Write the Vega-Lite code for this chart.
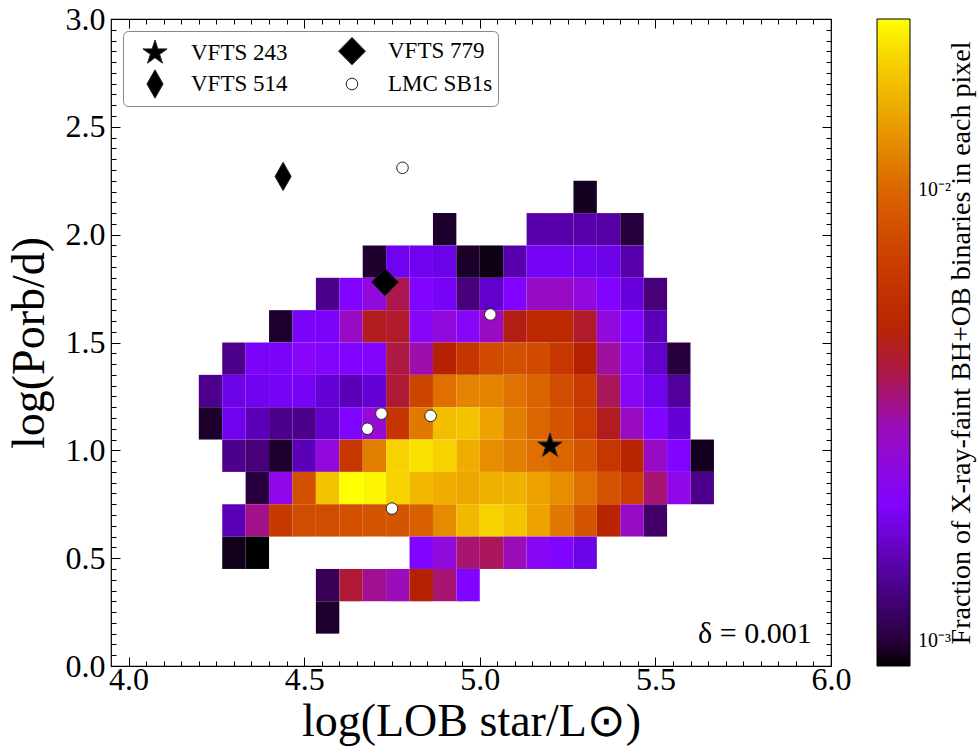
{
"$schema": "https://vega.github.io/schema/vega-lite/v6.json",
"width": 720, "height": 647,
"autosize": "none",
"padding": {"left": 111, "top": 19, "right": 146, "bottom": 86},
"background": "white",
"config": {
  "view": {"stroke": "black", "strokeWidth": 1.2},
  "font": "Liberation Serif",
  "text": {"font": "Liberation Serif"},
  "legend": {"labelFont": "Liberation Serif", "titleFont": "Liberation Serif"},
  "axis": {"labelColor": "black", "tickColor": "black", "titleColor": "black", "grid": false, "domain": false, "labelFont": "Liberation Serif", "titleFont": "Liberation Serif", "titleFontWeight": "normal", "tickWidth": 1}
},
"datasets": {
  "cells": [
    {"x0":5.2667,"x1":5.3333,"y0":2.1,"y1":2.25,"f":0.00094},
    {"x0":4.8667,"x1":4.9333,"y0":1.95,"y1":2.1,"f":0.00097},
    {"x0":5.1333,"x1":5.2,"y0":1.95,"y1":2.1,"f":0.0013},
    {"x0":5.2,"x1":5.2667,"y0":1.95,"y1":2.1,"f":0.0013},
    {"x0":5.2667,"x1":5.3333,"y0":1.95,"y1":2.1,"f":0.0013},
    {"x0":5.3333,"x1":5.4,"y0":1.95,"y1":2.1,"f":0.00128},
    {"x0":5.4,"x1":5.4667,"y0":1.95,"y1":2.1,"f":0.001},
    {"x0":4.6667,"x1":4.7333,"y0":1.8,"y1":1.95,"f":0.00097},
    {"x0":4.7333,"x1":4.8,"y0":1.8,"y1":1.95,"f":0.0017},
    {"x0":4.8,"x1":4.8667,"y0":1.8,"y1":1.95,"f":0.0017},
    {"x0":4.8667,"x1":4.9333,"y0":1.8,"y1":1.95,"f":0.0016},
    {"x0":4.9333,"x1":5,"y0":1.8,"y1":1.95,"f":0.00096},
    {"x0":5,"x1":5.0667,"y0":1.8,"y1":1.95,"f":0.00092},
    {"x0":5.0667,"x1":5.1333,"y0":1.8,"y1":1.95,"f":0.0013},
    {"x0":5.1333,"x1":5.2,"y0":1.8,"y1":1.95,"f":0.0018},
    {"x0":5.2,"x1":5.2667,"y0":1.8,"y1":1.95,"f":0.0018},
    {"x0":5.2667,"x1":5.3333,"y0":1.8,"y1":1.95,"f":0.0017},
    {"x0":5.3333,"x1":5.4,"y0":1.8,"y1":1.95,"f":0.0016},
    {"x0":5.4,"x1":5.4667,"y0":1.8,"y1":1.95,"f":0.0013},
    {"x0":4.5333,"x1":4.6,"y0":1.65,"y1":1.8,"f":0.0012},
    {"x0":4.6,"x1":4.6667,"y0":1.65,"y1":1.8,"f":0.002},
    {"x0":4.6667,"x1":4.7333,"y0":1.65,"y1":1.8,"f":0.0026},
    {"x0":4.7333,"x1":4.8,"y0":1.65,"y1":1.8,"f":0.0039},
    {"x0":4.8,"x1":4.8667,"y0":1.65,"y1":1.8,"f":0.002},
    {"x0":4.8667,"x1":4.9333,"y0":1.65,"y1":1.8,"f":0.00185},
    {"x0":4.9333,"x1":5,"y0":1.65,"y1":1.8,"f":0.00115},
    {"x0":5,"x1":5.0667,"y0":1.65,"y1":1.8,"f":0.00145},
    {"x0":5.0667,"x1":5.1333,"y0":1.65,"y1":1.8,"f":0.002},
    {"x0":5.1333,"x1":5.2,"y0":1.65,"y1":1.8,"f":0.00285},
    {"x0":5.2,"x1":5.2667,"y0":1.65,"y1":1.8,"f":0.00285},
    {"x0":5.2667,"x1":5.3333,"y0":1.65,"y1":1.8,"f":0.0026},
    {"x0":5.3333,"x1":5.4,"y0":1.65,"y1":1.8,"f":0.002},
    {"x0":5.4,"x1":5.4667,"y0":1.65,"y1":1.8,"f":0.00155},
    {"x0":5.4667,"x1":5.5333,"y0":1.65,"y1":1.8,"f":0.00115},
    {"x0":4.4,"x1":4.4667,"y0":1.5,"y1":1.65,"f":0.00097},
    {"x0":4.4667,"x1":4.5333,"y0":1.5,"y1":1.65,"f":0.0019},
    {"x0":4.5333,"x1":4.6,"y0":1.5,"y1":1.65,"f":0.0019},
    {"x0":4.6,"x1":4.6667,"y0":1.5,"y1":1.65,"f":0.00285},
    {"x0":4.6667,"x1":4.7333,"y0":1.5,"y1":1.65,"f":0.0043},
    {"x0":4.7333,"x1":4.8,"y0":1.5,"y1":1.65,"f":0.0042},
    {"x0":4.8,"x1":4.8667,"y0":1.5,"y1":1.65,"f":0.0022},
    {"x0":4.8667,"x1":4.9333,"y0":1.5,"y1":1.65,"f":0.0026},
    {"x0":4.9333,"x1":5,"y0":1.5,"y1":1.65,"f":0.0022},
    {"x0":5,"x1":5.0667,"y0":1.5,"y1":1.65,"f":0.0029},
    {"x0":5.0667,"x1":5.1333,"y0":1.5,"y1":1.65,"f":0.0044},
    {"x0":5.1333,"x1":5.2,"y0":1.5,"y1":1.65,"f":0.0053},
    {"x0":5.2,"x1":5.2667,"y0":1.5,"y1":1.65,"f":0.0053},
    {"x0":5.2667,"x1":5.3333,"y0":1.5,"y1":1.65,"f":0.0042},
    {"x0":5.3333,"x1":5.4,"y0":1.5,"y1":1.65,"f":0.0026},
    {"x0":5.4,"x1":5.4667,"y0":1.5,"y1":1.65,"f":0.002},
    {"x0":5.4667,"x1":5.5333,"y0":1.5,"y1":1.65,"f":0.00135},
    {"x0":4.2667,"x1":4.3333,"y0":1.35,"y1":1.5,"f":0.0012},
    {"x0":4.3333,"x1":4.4,"y0":1.35,"y1":1.5,"f":0.0019},
    {"x0":4.4,"x1":4.4667,"y0":1.35,"y1":1.5,"f":0.0019},
    {"x0":4.4667,"x1":4.5333,"y0":1.35,"y1":1.5,"f":0.0022},
    {"x0":4.5333,"x1":4.6,"y0":1.35,"y1":1.5,"f":0.00205},
    {"x0":4.6,"x1":4.6667,"y0":1.35,"y1":1.5,"f":0.002},
    {"x0":4.6667,"x1":4.7333,"y0":1.35,"y1":1.5,"f":0.00205},
    {"x0":4.7333,"x1":4.8,"y0":1.35,"y1":1.5,"f":0.004},
    {"x0":4.8,"x1":4.8667,"y0":1.35,"y1":1.5,"f":0.0031},
    {"x0":4.8667,"x1":4.9333,"y0":1.35,"y1":1.5,"f":0.0046},
    {"x0":4.9333,"x1":5,"y0":1.35,"y1":1.5,"f":0.0062},
    {"x0":5,"x1":5.0667,"y0":1.35,"y1":1.5,"f":0.0079},
    {"x0":5.0667,"x1":5.1333,"y0":1.35,"y1":1.5,"f":0.0084},
    {"x0":5.1333,"x1":5.2,"y0":1.35,"y1":1.5,"f":0.0079},
    {"x0":5.2,"x1":5.2667,"y0":1.35,"y1":1.5,"f":0.0063},
    {"x0":5.2667,"x1":5.3333,"y0":1.35,"y1":1.5,"f":0.0046},
    {"x0":5.3333,"x1":5.4,"y0":1.35,"y1":1.5,"f":0.0032},
    {"x0":5.4,"x1":5.4667,"y0":1.35,"y1":1.5,"f":0.00225},
    {"x0":5.4667,"x1":5.5333,"y0":1.35,"y1":1.5,"f":0.00145},
    {"x0":5.5333,"x1":5.6,"y0":1.35,"y1":1.5,"f":0.001},
    {"x0":4.2,"x1":4.2667,"y0":1.2,"y1":1.35,"f":0.0012},
    {"x0":4.2667,"x1":4.3333,"y0":1.2,"y1":1.35,"f":0.0016},
    {"x0":4.3333,"x1":4.4,"y0":1.2,"y1":1.35,"f":0.0017},
    {"x0":4.4,"x1":4.4667,"y0":1.2,"y1":1.35,"f":0.0018},
    {"x0":4.4667,"x1":4.5333,"y0":1.2,"y1":1.35,"f":0.0018},
    {"x0":4.5333,"x1":4.6,"y0":1.2,"y1":1.35,"f":0.0015},
    {"x0":4.6,"x1":4.6667,"y0":1.2,"y1":1.35,"f":0.00135},
    {"x0":4.6667,"x1":4.7333,"y0":1.2,"y1":1.35,"f":0.0015},
    {"x0":4.7333,"x1":4.8,"y0":1.2,"y1":1.35,"f":0.0041},
    {"x0":4.8,"x1":4.8667,"y0":1.2,"y1":1.35,"f":0.0075},
    {"x0":4.8667,"x1":4.9333,"y0":1.2,"y1":1.35,"f":0.0107},
    {"x0":4.9333,"x1":5,"y0":1.2,"y1":1.35,"f":0.0125},
    {"x0":5,"x1":5.0667,"y0":1.2,"y1":1.35,"f":0.0125},
    {"x0":5.0667,"x1":5.1333,"y0":1.2,"y1":1.35,"f":0.011},
    {"x0":5.1333,"x1":5.2,"y0":1.2,"y1":1.35,"f":0.0099},
    {"x0":5.2,"x1":5.2667,"y0":1.2,"y1":1.35,"f":0.008},
    {"x0":5.2667,"x1":5.3333,"y0":1.2,"y1":1.35,"f":0.0066},
    {"x0":5.3333,"x1":5.4,"y0":1.2,"y1":1.35,"f":0.0038},
    {"x0":5.4,"x1":5.4667,"y0":1.2,"y1":1.35,"f":0.00225},
    {"x0":5.4667,"x1":5.5333,"y0":1.2,"y1":1.35,"f":0.0017},
    {"x0":5.5333,"x1":5.6,"y0":1.2,"y1":1.35,"f":0.00125},
    {"x0":4.2,"x1":4.2667,"y0":1.05,"y1":1.2,"f":0.00097},
    {"x0":4.2667,"x1":4.3333,"y0":1.05,"y1":1.2,"f":0.0017},
    {"x0":4.3333,"x1":4.4,"y0":1.05,"y1":1.2,"f":0.00135},
    {"x0":4.4,"x1":4.4667,"y0":1.05,"y1":1.2,"f":0.0012},
    {"x0":4.4667,"x1":4.5333,"y0":1.05,"y1":1.2,"f":0.0012},
    {"x0":4.5333,"x1":4.6,"y0":1.05,"y1":1.2,"f":0.00145},
    {"x0":4.6,"x1":4.6667,"y0":1.05,"y1":1.2,"f":0.002},
    {"x0":4.6667,"x1":4.7333,"y0":1.05,"y1":1.2,"f":0.0027},
    {"x0":4.7333,"x1":4.8,"y0":1.05,"y1":1.2,"f":0.0062},
    {"x0":4.8,"x1":4.8667,"y0":1.05,"y1":1.2,"f":0.0115},
    {"x0":4.8667,"x1":4.9333,"y0":1.05,"y1":1.2,"f":0.0175},
    {"x0":4.9333,"x1":5,"y0":1.05,"y1":1.2,"f":0.018},
    {"x0":5,"x1":5.0667,"y0":1.05,"y1":1.2,"f":0.015},
    {"x0":5.0667,"x1":5.1333,"y0":1.05,"y1":1.2,"f":0.012},
    {"x0":5.1333,"x1":5.2,"y0":1.05,"y1":1.2,"f":0.01},
    {"x0":5.2,"x1":5.2667,"y0":1.05,"y1":1.2,"f":0.0085},
    {"x0":5.2667,"x1":5.3333,"y0":1.05,"y1":1.2,"f":0.0069},
    {"x0":5.3333,"x1":5.4,"y0":1.05,"y1":1.2,"f":0.0043},
    {"x0":5.4,"x1":5.4667,"y0":1.05,"y1":1.2,"f":0.0029},
    {"x0":5.4667,"x1":5.5333,"y0":1.05,"y1":1.2,"f":0.002},
    {"x0":5.5333,"x1":5.6,"y0":1.05,"y1":1.2,"f":0.0015},
    {"x0":4.2667,"x1":4.3333,"y0":0.9,"y1":1.05,"f":0.0012},
    {"x0":4.3333,"x1":4.4,"y0":0.9,"y1":1.05,"f":0.00115},
    {"x0":4.4,"x1":4.4667,"y0":0.9,"y1":1.05,"f":0.00097},
    {"x0":4.4667,"x1":4.5333,"y0":0.9,"y1":1.05,"f":0.00135},
    {"x0":4.5333,"x1":4.6,"y0":0.9,"y1":1.05,"f":0.0026},
    {"x0":4.6,"x1":4.6667,"y0":0.9,"y1":1.05,"f":0.0064},
    {"x0":4.6667,"x1":4.7333,"y0":0.9,"y1":1.05,"f":0.012},
    {"x0":4.7333,"x1":4.8,"y0":0.9,"y1":1.05,"f":0.0195},
    {"x0":4.8,"x1":4.8667,"y0":0.9,"y1":1.05,"f":0.021},
    {"x0":4.8667,"x1":4.9333,"y0":0.9,"y1":1.05,"f":0.0195},
    {"x0":4.9333,"x1":5,"y0":0.9,"y1":1.05,"f":0.016},
    {"x0":5,"x1":5.0667,"y0":0.9,"y1":1.05,"f":0.0133},
    {"x0":5.0667,"x1":5.1333,"y0":0.9,"y1":1.05,"f":0.012},
    {"x0":5.1333,"x1":5.2,"y0":0.9,"y1":1.05,"f":0.0107},
    {"x0":5.2,"x1":5.2667,"y0":0.9,"y1":1.05,"f":0.01},
    {"x0":5.2667,"x1":5.3333,"y0":0.9,"y1":1.05,"f":0.0085},
    {"x0":5.3333,"x1":5.4,"y0":0.9,"y1":1.05,"f":0.0064},
    {"x0":5.4,"x1":5.4667,"y0":0.9,"y1":1.05,"f":0.005},
    {"x0":5.4667,"x1":5.5333,"y0":0.9,"y1":1.05,"f":0.00285},
    {"x0":5.5333,"x1":5.6,"y0":0.9,"y1":1.05,"f":0.002},
    {"x0":5.6,"x1":5.6667,"y0":0.9,"y1":1.05,"f":0.00094},
    {"x0":4.3333,"x1":4.4,"y0":0.75,"y1":0.9,"f":0.001},
    {"x0":4.4,"x1":4.4667,"y0":0.75,"y1":0.9,"f":0.0025},
    {"x0":4.4667,"x1":4.5333,"y0":0.75,"y1":0.9,"f":0.0083},
    {"x0":4.5333,"x1":4.6,"y0":0.75,"y1":0.9,"f":0.018},
    {"x0":4.6,"x1":4.6667,"y0":0.75,"y1":0.9,"f":0.024},
    {"x0":4.6667,"x1":4.7333,"y0":0.75,"y1":0.9,"f":0.023},
    {"x0":4.7333,"x1":4.8,"y0":0.75,"y1":0.9,"f":0.0195},
    {"x0":4.8,"x1":4.8667,"y0":0.75,"y1":0.9,"f":0.017},
    {"x0":4.8667,"x1":4.9333,"y0":0.75,"y1":0.9,"f":0.016},
    {"x0":4.9333,"x1":5,"y0":0.75,"y1":0.9,"f":0.0155},
    {"x0":5,"x1":5.0667,"y0":0.75,"y1":0.9,"f":0.0165},
    {"x0":5.0667,"x1":5.1333,"y0":0.75,"y1":0.9,"f":0.0165},
    {"x0":5.1333,"x1":5.2,"y0":0.75,"y1":0.9,"f":0.015},
    {"x0":5.2,"x1":5.2667,"y0":0.75,"y1":0.9,"f":0.0133},
    {"x0":5.2667,"x1":5.3333,"y0":0.75,"y1":0.9,"f":0.0107},
    {"x0":5.3333,"x1":5.4,"y0":0.75,"y1":0.9,"f":0.0085},
    {"x0":5.4,"x1":5.4667,"y0":0.75,"y1":0.9,"f":0.0069},
    {"x0":5.4667,"x1":5.5333,"y0":0.75,"y1":0.9,"f":0.0036},
    {"x0":5.5333,"x1":5.6,"y0":0.75,"y1":0.9,"f":0.0025},
    {"x0":5.6,"x1":5.6667,"y0":0.75,"y1":0.9,"f":0.0012},
    {"x0":4.2667,"x1":4.3333,"y0":0.6,"y1":0.75,"f":0.00135},
    {"x0":4.3333,"x1":4.4,"y0":0.6,"y1":0.75,"f":0.0034},
    {"x0":4.4,"x1":4.4667,"y0":0.6,"y1":0.75,"f":0.0065},
    {"x0":4.4667,"x1":4.5333,"y0":0.6,"y1":0.75,"f":0.008},
    {"x0":4.5333,"x1":4.6,"y0":0.6,"y1":0.75,"f":0.008},
    {"x0":4.6,"x1":4.6667,"y0":0.6,"y1":0.75,"f":0.0083},
    {"x0":4.6667,"x1":4.7333,"y0":0.6,"y1":0.75,"f":0.0087},
    {"x0":4.7333,"x1":4.8,"y0":0.6,"y1":0.75,"f":0.0087},
    {"x0":4.8,"x1":4.8667,"y0":0.6,"y1":0.75,"f":0.0095},
    {"x0":4.8667,"x1":4.9333,"y0":0.6,"y1":0.75,"f":0.013},
    {"x0":4.9333,"x1":5,"y0":0.6,"y1":0.75,"f":0.017},
    {"x0":5,"x1":5.0667,"y0":0.6,"y1":0.75,"f":0.0195},
    {"x0":5.0667,"x1":5.1333,"y0":0.6,"y1":0.75,"f":0.018},
    {"x0":5.1333,"x1":5.2,"y0":0.6,"y1":0.75,"f":0.015},
    {"x0":5.2,"x1":5.2667,"y0":0.6,"y1":0.75,"f":0.0115},
    {"x0":5.2667,"x1":5.3333,"y0":0.6,"y1":0.75,"f":0.0087},
    {"x0":5.3333,"x1":5.4,"y0":0.6,"y1":0.75,"f":0.005},
    {"x0":5.4,"x1":5.4667,"y0":0.6,"y1":0.75,"f":0.00285},
    {"x0":5.4667,"x1":5.5333,"y0":0.6,"y1":0.75,"f":0.0011},
    {"x0":4.2667,"x1":4.3333,"y0":0.45,"y1":0.6,"f":0.00093},
    {"x0":4.3333,"x1":4.4,"y0":0.45,"y1":0.6,"f":0.00088},
    {"x0":4.8,"x1":4.8667,"y0":0.45,"y1":0.6,"f":0.002},
    {"x0":4.8667,"x1":4.9333,"y0":0.45,"y1":0.6,"f":0.0026},
    {"x0":4.9333,"x1":5,"y0":0.45,"y1":0.6,"f":0.0036},
    {"x0":5,"x1":5.0667,"y0":0.45,"y1":0.6,"f":0.0038},
    {"x0":5.0667,"x1":5.1333,"y0":0.45,"y1":0.6,"f":0.003},
    {"x0":5.1333,"x1":5.2,"y0":0.45,"y1":0.6,"f":0.00225},
    {"x0":5.2,"x1":5.2667,"y0":0.45,"y1":0.6,"f":0.002},
    {"x0":5.2667,"x1":5.3333,"y0":0.45,"y1":0.6,"f":0.0016},
    {"x0":4.5333,"x1":4.6,"y0":0.3,"y1":0.45,"f":0.00105},
    {"x0":4.6,"x1":4.6667,"y0":0.3,"y1":0.45,"f":0.0041},
    {"x0":4.6667,"x1":4.7333,"y0":0.3,"y1":0.45,"f":0.0033},
    {"x0":4.7333,"x1":4.8,"y0":0.3,"y1":0.45,"f":0.003},
    {"x0":4.8,"x1":4.8667,"y0":0.3,"y1":0.45,"f":0.0046},
    {"x0":4.8667,"x1":4.9333,"y0":0.3,"y1":0.45,"f":0.0036},
    {"x0":4.9333,"x1":5,"y0":0.3,"y1":0.45,"f":0.002},
    {"x0":4.5333,"x1":4.6,"y0":0.15,"y1":0.3,"f":0.00097}
  ],
  "vfts": [
    {"name":"VFTS 243","L":5.20,"P":1.02},
    {"name":"VFTS 779","L":4.73,"P":1.78},
    {"name":"VFTS 514","L":4.44,"P":2.27}
  ],
  "lmc": [
    {"name":"LMC SB1s","L":4.78,"P":2.31},
    {"name":"LMC SB1s","L":5.03,"P":1.63},
    {"name":"LMC SB1s","L":4.72,"P":1.17},
    {"name":"LMC SB1s","L":4.68,"P":1.10},
    {"name":"LMC SB1s","L":4.86,"P":1.16},
    {"name":"LMC SB1s","L":4.75,"P":0.73}
  ],
  "note": [
    {"label":"δ = 0.001","x":5.945,"y":0.107}
  ]
},
"layer": [
  {
    "data": {"name": "cells"},
    "mark": {"type": "rect"},
    "encoding": {
      "x": {"field": "x0", "type": "quantitative", "scale": {"domain": [3.95, 6], "nice": false, "zero": false},
        "axis": {"orient": "bottom", "values": [4, 4.5, 5, 5.5, 6], "format": ".1f", "tickSize": -9, "labelPadding": 7, "labelFontSize": 32, "labelFlush": false, "labelOverlap": false, "title": "log(LOB star/L⊙)", "titleFontSize": 46, "titlePadding": 4}},
      "x2": {"field": "x1"},
      "y": {"field": "y0", "type": "quantitative", "scale": {"domain": [0, 3], "nice": false, "zero": false},
        "axis": {"orient": "left", "values": [0, 0.5, 1, 1.5, 2, 2.5, 3], "format": ".1f", "tickSize": -9, "labelPadding": 15, "labelFontSize": 32, "labelFlush": false, "labelOverlap": false, "title": "log(Porb/d)", "titleFontSize": 46, "titlePadding": 12}},
      "y2": {"field": "y1"},
      "color": {"field": "f", "type": "quantitative",
        "scale": {"type": "log", "clamp": true, "interpolate": "rgb",
          "domain": [0.00088, 0.0010819, 0.0013305, 0.0016357, 0.0020108, 0.0024721, 0.0030400, 0.0037376, 0.0045952, 0.005651, 0.006948, 0.008540, 0.010503, 0.012912, 0.015873, 0.019524, 0.024],
          "range": ["#000000", "#400062", "#5a00b4", "#6e02ec", "#8004ff", "#8f08ec", "#9c0db4", "#a91562", "#b42000", "#bf2d00", "#ca3e00", "#d35300", "#dd6c00", "#e68900", "#efab00", "#f7d200", "#ffff00"]},
        "legend": {"orient": "right", "offset": 45, "padding": 0, "gradientLength": 647, "gradientThickness": 33, "gradientStrokeColor": "black", "gradientStrokeWidth": 1,
          "values": [0.001, 0.01], "labelExpr": "datum.value < 0.003 ? '10⁻³' : '10⁻²'", "labelFontSize": 20, "labelColor": "black", "labelFont": "Liberation Serif", "labelOffset": 8,
          "title": "Fraction of X-ray-faint BH+OB binaries in each pixel", "titleFont": "Liberation Serif", "titleFontSize": 28, "titleFontWeight": "normal", "titleColor": "black",
          "titleOrient": "right", "titleAnchor": "middle", "titleAlign": "center", "titleBaseline": "top", "titlePadding": -3, "titleLimit": 1000,
          "encoding": {"title": {"angle": {"value": 270}}}}}
    }
  },
  {
    "data": {"name": "vfts"},
    "mark": {"type": "point", "filled": true, "size": 800, "stroke": "#222", "strokeWidth": 1, "opacity": 1},
    "encoding": {
      "x": {"field": "L", "type": "quantitative", "scale": {"domain": [3.95, 6], "nice": false, "zero": false},
        "axis": {"orient": "bottom", "values": [4.05,4.1,4.15,4.2,4.25,4.3,4.35,4.4,4.45,4.55,4.6,4.65,4.7,4.75,4.8,4.85,4.9,4.95,5.05,5.1,5.15,5.2,5.25,5.3,5.35,5.4,5.45,5.55,5.6,5.65,5.7,5.75,5.8,5.85,5.9,5.95], "tickSize": -5, "labels": false, "title": null}},
      "y": {"field": "P", "type": "quantitative", "scale": {"domain": [0, 3], "nice": false, "zero": false},
        "axis": {"orient": "left", "values": [0.05,0.1,0.15,0.2,0.25,0.3,0.35,0.4,0.45,0.55,0.6,0.65,0.7,0.75,0.8,0.85,0.9,0.95,1.05,1.1,1.15,1.2,1.25,1.3,1.35,1.4,1.45,1.55,1.6,1.65,1.7,1.75,1.8,1.85,1.9,1.95,2.05,2.1,2.15,2.2,2.25,2.3,2.35,2.4,2.45,2.55,2.6,2.65,2.7,2.75,2.8,2.85,2.9,2.95], "tickSize": -5, "labels": false, "title": null}},
      "shape": {"field": "name", "type": "nominal",
        "scale": {"domain": ["VFTS 243", "VFTS 514", "VFTS 779", "LMC SB1s"],
          "range": ["M0,-0.9L0.202,-0.278L0.856,-0.278L0.327,0.106L0.529,0.728L0,0.344L-0.529,0.728L-0.327,0.106L-0.856,-0.278L-0.202,-0.278Z", "M0,-1L0.57,0L0,1L-0.57,0Z", "M0,-0.97L0.95,0L0,0.97L-0.95,0Z", "M0.41,0A0.41,0.41,0,1,1,-0.41,0A0.41,0.41,0,1,1,0.41,0Z"]},
        "legend": {"orient": "top-left", "offset": 12, "columns": 2, "padding": 5, "fillColor": "white", "strokeColor": "#888", "cornerRadius": 5, "symbolSize": 800, "labelFontSize": 23, "labelFont": "Liberation Serif", "labelColor": "black", "labelOffset": 21, "columnPadding": 37, "rowPadding": 0, "symbolOffset": 12, "title": null,
          "encoding": {"symbols": {"stroke": {"value": "#222"}, "strokeWidth": {"value": 1}}}}},
      "fill": {"field": "name", "type": "nominal",
        "scale": {"domain": ["VFTS 243", "VFTS 514", "VFTS 779", "LMC SB1s"], "range": ["black", "black", "black", "white"]},
        "legend": {"orient": "top-left", "offset": 12, "columns": 2, "padding": 5, "fillColor": "white", "strokeColor": "#888", "cornerRadius": 5, "symbolSize": 800, "labelFontSize": 23, "labelFont": "Liberation Serif", "labelColor": "black", "labelOffset": 21, "columnPadding": 37, "rowPadding": 0, "symbolOffset": 12, "title": null,
          "encoding": {"symbols": {"stroke": {"value": "#222"}, "strokeWidth": {"value": 1}}}}}
    }
  },
  {
    "data": {"name": "lmc"},
    "mark": {"type": "point", "filled": true, "size": 800, "stroke": "#222", "strokeWidth": 1, "opacity": 1},
    "encoding": {
      "x": {"field": "L", "type": "quantitative", "scale": {"domain": [3.95, 6], "nice": false, "zero": false},
        "axis": {"orient": "top", "values": [4, 4.5, 5, 5.5, 6], "tickSize": -9, "labels": false, "title": null}},
      "y": {"field": "P", "type": "quantitative", "scale": {"domain": [0, 3], "nice": false, "zero": false},
        "axis": {"orient": "right", "values": [0, 0.5, 1, 1.5, 2, 2.5, 3], "tickSize": -9, "labels": false, "title": null}},
      "shape": {"field": "name", "type": "nominal",
        "scale": {"domain": ["VFTS 243", "VFTS 514", "VFTS 779", "LMC SB1s"],
          "range": ["M0,-0.9L0.202,-0.278L0.856,-0.278L0.327,0.106L0.529,0.728L0,0.344L-0.529,0.728L-0.327,0.106L-0.856,-0.278L-0.202,-0.278Z", "M0,-1L0.57,0L0,1L-0.57,0Z", "M0,-0.97L0.95,0L0,0.97L-0.95,0Z", "M0.41,0A0.41,0.41,0,1,1,-0.41,0A0.41,0.41,0,1,1,0.41,0Z"]},
        "legend": {"orient": "top-left", "offset": 12, "columns": 2, "padding": 5, "fillColor": "white", "strokeColor": "#888", "cornerRadius": 5, "symbolSize": 800, "labelFontSize": 23, "labelFont": "Liberation Serif", "labelColor": "black", "labelOffset": 21, "columnPadding": 37, "rowPadding": 0, "symbolOffset": 12, "title": null,
          "encoding": {"symbols": {"stroke": {"value": "#222"}, "strokeWidth": {"value": 1}}}}},
      "fill": {"field": "name", "type": "nominal",
        "scale": {"domain": ["VFTS 243", "VFTS 514", "VFTS 779", "LMC SB1s"], "range": ["black", "black", "black", "white"]},
        "legend": {"orient": "top-left", "offset": 12, "columns": 2, "padding": 5, "fillColor": "white", "strokeColor": "#888", "cornerRadius": 5, "symbolSize": 800, "labelFontSize": 23, "labelFont": "Liberation Serif", "labelColor": "black", "labelOffset": 21, "columnPadding": 37, "rowPadding": 0, "symbolOffset": 12, "title": null,
          "encoding": {"symbols": {"stroke": {"value": "#222"}, "strokeWidth": {"value": 1}}}}}
    }
  },
  {
    "data": {"name": "note"},
    "mark": {"type": "text", "align": "right", "baseline": "alphabetic", "fontSize": 30, "font": "Liberation Serif", "color": "black"},
    "encoding": {
      "x": {"field": "x", "type": "quantitative", "scale": {"domain": [3.95, 6], "nice": false, "zero": false},
        "axis": {"orient": "top", "values": [4.05,4.1,4.15,4.2,4.25,4.3,4.35,4.4,4.45,4.55,4.6,4.65,4.7,4.75,4.8,4.85,4.9,4.95,5.05,5.1,5.15,5.2,5.25,5.3,5.35,5.4,5.45,5.55,5.6,5.65,5.7,5.75,5.8,5.85,5.9,5.95], "tickSize": -5, "labels": false, "title": null}},
      "y": {"field": "y", "type": "quantitative", "scale": {"domain": [0, 3], "nice": false, "zero": false},
        "axis": {"orient": "right", "values": [0.05,0.1,0.15,0.2,0.25,0.3,0.35,0.4,0.45,0.55,0.6,0.65,0.7,0.75,0.8,0.85,0.9,0.95,1.05,1.1,1.15,1.2,1.25,1.3,1.35,1.4,1.45,1.55,1.6,1.65,1.7,1.75,1.8,1.85,1.9,1.95,2.05,2.1,2.15,2.2,2.25,2.3,2.35,2.4,2.45,2.55,2.6,2.65,2.7,2.75,2.8,2.85,2.9,2.95], "tickSize": -5, "labels": false, "title": null}},
      "text": {"field": "label"}
    }
  }
],
"resolve": {"axis": {"x": "independent", "y": "independent"}}
}
